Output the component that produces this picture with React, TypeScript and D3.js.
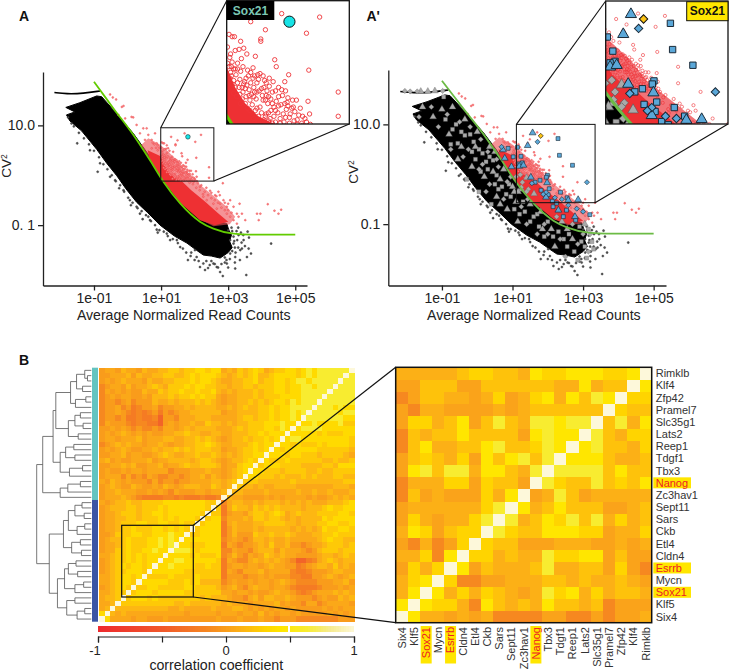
import React, { useEffect, useRef } from 'react';
import * as d3 from 'd3';

// all scatter values are log10(mean), log10(CV2)
type Pt = [number, number];

const blackCloud: Pt[] = [
  [-1.84, 1.36], [-1.42, 1.455], [-0.92, 1.59], [-0.77, 1.575], [-0.37, 1.27], [0.17, 0.84], [0.67, 0.37],
  [1.07, -0.1], [1.57, -0.43], [2.16, -0.73], [2.7, -0.92], [2.96, -0.97], [3.02, -1.1], [3.1, -1.2], [3.04, -1.32],
  [3.12, -1.45], [3.0, -1.55], [2.76, -1.66], [2.5, -1.62], [2.26, -1.6], [2.05, -1.5], [1.77, -1.36], [1.4, -1.22],
  [0.97, -1.0], [0.6, -0.75], [0.27, -0.54], [-0.05, -0.27], [-0.32, -0.01], [-0.62, 0.24], [-0.92, 0.52], [-1.37, 0.89],
  [-1.72, 1.09], [-1.82, 1.21], [-1.57, 1.27],
];
const topStreak: Pt[] = [[-2.18, 1.66], [-1.82, 1.63], [-1.32, 1.64], [-0.82, 1.69]];
const blackDots: Pt[] = [
  [-1.5, 0.64], [-0.89, 0.07], [-0.37, -0.1], [-0.25, -0.26], [0.27, -0.63], [0.62, -0.83], [0.87, -1.09],
  [1.27, -1.3], [1.57, -1.44], [1.8, -1.7], [2.16, -1.84], [2.31, -1.9], [2.76, -1.94], [2.84, -2.02],
  [3.21, -1.87], [3.54, -2.0], [4.28, -1.37], [3.58, -1.13], [3.46, -1.3], [3.61, -1.47], [3.68, -1.57],
  [3.56, -1.64], [3.16, -1.37], [3.31, -1.2], [3.36, -1.5], [3.21, -1.64], [2.96, -1.77], [2.56, -1.77],
  [2.06, -1.64], [2.01, -1.5], [1.47, -1.3], [1.17, -1.17], [0.67, -0.9], [0.37, -0.77], [0.07, -0.5],
  [-0.12, -0.3], [-0.52, -0.03], [-0.82, 0.24], [-1.12, 0.5], [-1.67, 1.04], [-1.77, 1.16], [3.06, -1.3],
  [3.16, -1.23], [3.41, -1.47], [3.06, -1.57], [2.26, -1.77], [2.66, -1.84], [3.0, -1.1], [3.3, -1.05],
  [3.2, -1.45], [3.4, -1.35], [2.9, -1.65], [2.5, -1.72], [1.9, -1.55], [0.1, -0.6], [0.45, -0.88], [0.9, -1.15],
  [-1.6, 0.98], [-1.45, 0.85], [-1.3, 0.74], [-1.15, 0.62], [-1.0, 0.49], [-0.85, 0.36], [-0.72, 0.22], [-0.6, 0.12],
  [-0.47, 0.0], [-0.35, -0.12], [-0.22, -0.2], [-0.1, -0.33], [0.02, -0.45], [0.15, -0.55], [0.3, -0.66], [0.42, -0.72],
  [0.55, -0.8], [0.7, -0.92], [0.82, -1.0], [0.95, -1.1], [1.08, -1.13], [1.2, -1.22], [1.35, -1.28], [1.5, -1.36],
  [1.65, -1.47], [1.75, -1.55], [1.88, -1.62], [2.0, -1.7], [2.12, -1.72], [2.35, -1.72], [2.45, -1.8], [2.6, -1.78],
  [2.8, -1.78], [2.95, -1.7], [3.05, -1.68], [3.22, -1.55], [3.3, -1.45], [3.27, -1.3], [3.25, -1.12], [3.38, -1.15],
  [3.1, -1.05], [3.45, -1.2], [3.5, -1.42], [3.62, -1.25], [3.2, -1.75], [2.7, -1.85], [3.0, -1.85], [2.4, -1.86],
  [3.35, -1.7], [3.12, -1.12], [3.18, -1.32], [3.12, -1.52], [2.9, -1.75],
];
const redHaze: Pt[] = [
  [0.62, 0.74], [0.95, 0.62], [1.17, 0.5], [1.57, 0.24], [1.87, -0.03], [2.36, -0.3], [2.96, -0.63], [3.21, -0.83],
  [3.05, -0.98], [2.56, -1.02], [2.16, -0.88], [1.57, -0.52], [1.07, -0.1], [0.67, 0.32], [0.4, 0.6],
];
const redCore: Pt[] = [
  [0.6, 0.5], [0.99, 0.38], [1.1, 0.2], [1.23, 0.06], [1.4, -0.05], [1.62, -0.12], [1.9, -0.3], [2.3, -0.52],
  [2.7, -0.76], [3.0, -0.93], [2.6, -1.0], [2.16, -0.9], [1.57, -0.55], [1.07, -0.12], [0.67, 0.3],
];
const redDots: Pt[] = [
  [1.7, 0.84], [2.19, 0.81], [1.3, 0.77], [2.02, 0.67], [1.49, 0.7], [1.43, 0.62], [1.43, 0.6], [1.17, 0.6],
  [1.02, 0.66], [1.06, 0.64], [1.09, 0.64], [1.15, 0.53], [1.21, 0.54], [1.25, 0.49], [1.36, 0.47], [1.04, 0.49],
  [1.61, 0.44], [1.18, 0.45], [1.63, 0.38], [1.33, 0.37], [2.05, 0.35], [1.79, 0.31], [1.74, 0.25], [2.43, 0.16],
  [2.04, 0.08], [2.43, -0.05], [1.03, 0.46], [1.13, 0.41], [1.06, 0.42], [1.39, 0.31], [1.42, 0.32], [1.27, 0.3],
  [1.24, 0.28], [1.59, 0.25], [1.54, 0.21], [1.48, 0.26], [1.4, 0.27], [1.38, 0.24], [1.33, 0.28], [1.23, 0.19],
  [1.28, 0.18], [1.21, 0.23], [1.11, 0.31], [1.13, 0.36], [1.02, 0.38], [1.04, 0.33], [1.08, 0.36], [1.0, 0.41],
  [1.53, 0.12], [1.66, 0.12], [1.71, 0.13], [1.78, 0.11], [1.84, 0.09], [1.89, 0.09], [1.76, 0.01], [1.81, -0.03],
  [1.92, -0.04], [2.0, -0.07], [2.07, -0.12], [1.86, -0.09], [1.75, -0.06], [1.68, -0.07], [1.62, 0], [1.58, 0.06],
  [1.49, 0.09], [1.45, 0.13], [1.38, 0.16], [1.34, 0.12], [1.29, 0.09], [1.23, 0.06], [1.19, 0.1], [1.16, 0.14],
  [1.1, 0.2], [1.06, 0.23], [1.03, 0.28], [1.42, 0.03], [1.49, -0.05], [1.55, -0.07], [1.62, -0.1], [1.4, -0.05],
  [1.36, 0], [1.53, -0.02], [1.29, 0], [1.34, -0.07], [1.45, -0.1], [1.66, 0.04], [1.51, 0.17], [1.58, 0.16],
  [1.47, 0.2], [1.34, 0.2],
  [-0.52, 1.62], [-0.44, 1.56], [-0.34, 1.52], [-0.17, 1.37], [-0.12, 1.39], [0.12, 1.17], [0.17, 1.16], [0.47, 0.94],
  [0.57, 0.94], [0.62, 0.81], [0.72, 0.71], [0.82, 0.84], [0.27, 1.01], [-0.27, 1.21], [-0.07, 1.14], [0.37, 0.84],
  [0.52, 0.71], [0.72, 0.54], [0.87, 0.64], [2.84, -0.16], [2.71, -0.33], [2.46, -0.31], [2.61, -0.4], [3.06, -0.5],
  [3.34, -0.57], [3.51, -0.9], [3.31, -0.83], [3.86, -0.77], [3.96, -0.77], [4.18, -0.58], [4.38, -0.71], [4.5, -0.77],
  [4.58, -0.69], [3.91, -0.9], [3.16, -0.63], [2.96, -0.77], [2.76, -0.57], [2.66, -0.67], [3.26, -0.97], [3.16, -0.9],
  [3.06, -0.83], [2.16, -0.23], [1.97, -0.13], [2.26, -0.43], [2.36, -0.5], [2.56, -0.57], [2.06, -0.03], [1.77, 0.07],
  [2.96, -0.63], [3.26, -0.77], [3.41, -0.77], [2.86, -0.5],
  // denser part of the red cloud
  [1.05, 0.3], [1.08, 0.26], [1.13, 0.24], [1.16, 0.27], [1.19, 0.2], [1.22, 0.25], [1.25, 0.22], [1.3, 0.24],
  [1.31, 0.14], [1.35, 0.16], [1.37, 0.1], [1.41, 0.17], [1.44, 0.19], [1.46, 0.09], [1.5, 0.13], [1.52, 0.06],
  [1.56, 0.1], [1.6, 0.03], [1.63, 0.08], [1.65, -0.02], [1.69, 0.05], [1.72, -0.03], [1.74, 0.06], [1.78, 0.04],
  [1.8, -0.06], [1.83, 0.02], [1.87, -0.01], [1.9, -0.08], [1.94, 0.02], [1.97, -0.05], [1.28, 0.13], [1.24, 0.12],
  [1.2, 0.16], [1.17, 0.06], [1.12, 0.12], [1.08, 0.15], [1.15, 0.2], [1.26, 0.02], [1.32, 0.05], [1.38, 0.02],
  [1.44, -0.02], [1.5, -0.03], [1.56, 0.0], [1.6, -0.05], [1.47, -0.08], [1.53, -0.09], [1.58, -0.11], [1.68, -0.11],
  [1.73, -0.1], [1.8, -0.11], [1.9, -0.12], [1.96, -0.11], [1.05, 0.38], [1.1, 0.36], [1.17, 0.34], [1.2, 0.38],
  [1.26, 0.35], [1.3, 0.33], [1.35, 0.3], [1.46, 0.3], [1.5, 0.24], [1.54, 0.28], [1.66, 0.2], [1.7, 0.18],
  [1.62, 0.17], [1.75, 0.17], [1.85, 0.03], [2.02, -0.1], [2.1, -0.16], [2.15, -0.3], [2.2, -0.2], [2.3, -0.33],
  [2.4, -0.4], [2.5, -0.46], [2.6, -0.5], [2.7, -0.55], [2.8, -0.65], [2.9, -0.7], [3.0, -0.7], [3.1, -0.75],
  [2.05, -0.25], [2.25, -0.38], [1.95, -0.18], [1.85, -0.15], [2.35, -0.25], [2.5, -0.35], [2.65, -0.42], [2.75, -0.4],
  [2.9, -0.55], [3.0, -0.57], [0.9, 0.6], [0.95, 0.55], [0.8, 0.62], [0.75, 0.65], [0.9, 0.5], [0.85, 0.55],
  [1.0, 0.55], [1.1, 0.52],
];
const fitLine: Pt[] = [
  [-1, 1.876], [-0.82, 1.71], [-0.42, 1.34], [0.17, 0.81], [0.67, 0.3], [1.07, -0.13], [1.57, -0.565],
  [2.16, -0.93], [2.56, -1.07], [3.16, -1.17], [3.66, -1.19], [5, -1.19],
];
const sox21: Pt = [1.8, 0.77];

const graySquares: Pt[] = [
  [-0.95, 1.55], [-0.9, 1.1], [-0.6, 1.0], [-0.55, 0.62], [-0.35, 0.78], [-0.1, 0.65], [-0.05, 0.3], [0.15, 0.42],
  [0.3, 0.1], [0.55, -0.02], [0.45, 0.28], [0.7, -0.25], [0.95, -0.45], [1.05, -0.7], [1.3, -0.55], [1.6, -0.85],
  [1.75, -1.05], [2.0, -0.95], [2.3, -1.15], [2.6, -1.2], [2.9, -1.05], [2.55, -1.45], [2.75, -1.55], [3.05, -1.45],
  [3.25, -1.35], [2.85, -1.72], [3.1, -1.68], [0.05, -0.35], [-0.3, -0.1], [0.4, -0.6], [-0.2, 0.8], [0.05, 0.5],
  [0.25, 0.25], [0.6, -0.3], [1.2, -0.8], [1.9, -1.25], [3.15, -1.1], [-0.7, 0.9], [0.82, -0.4], [1.5, -0.95],
  [-0.75, 0.6], [-0.45, 0.85], [-0.15, 0.45], [0.1, 0.05], [0.35, 0.35], [0.5, -0.2], [0.9, -0.2], [1.35, -0.75],
  [1.7, -0.8], [2.15, -1.25], [2.45, -1.3], [2.95, -1.35], [3.3, -1.5],
];
const grayTriangles: Pt[] = [
  [-1.6, 1.66], [-1.4, 1.66], [-1.2, 1.67], [-1.25, 1.15], [-0.8, 0.8], [-0.45, 0.55], [-0.15, 0.15], [0.2, -0.05],
  [0.5, 0.45], [0.75, 0.1], [1.0, -0.25], [1.25, -0.3], [1.5, -0.6], [1.8, -0.75], [2.1, -1.1], [2.4, -0.95],
  [0.85, -0.7], [1.15, -0.95], [0.55, -0.45], [2.2, -1.45], [-1.55, 1.35], [-0.7, 1.35], [1.4, -0.07], [1.16, -0.35],
  [1.61, -0.39], [-0.35, 1.1], [0.0, 0.85], [0.35, 0.55], [0.65, -0.1], [1.1, -0.55], [2.55, -1.1],
  [-1.0, 1.3], [-0.55, 0.3], [-0.05, 0.55], [0.45, 0.05], [0.65, -0.6], [1.05, -0.35], [1.85, -1.1], [2.7, -1.3], [3.05, -1.0],
];
const grayDiamonds: Pt[] = [
  [-2.05, 1.67], [-1.9, 1.66], [-1.7, 1.66], [-0.98, 1.67], [-1.65, 1.15], [-1.1, 0.95], [-0.75, 0.5], [-0.2, 0.95],
  [-0.25, 0.5], [0.1, 0.7], [0.3, 0.45], [0.6, 0.15], [0.35, -0.2], [0.85, -0.15], [1.1, -0.05], [1.45, -0.3],
  [1.9, -1.0], [2.25, -0.85], [2.7, -1.0], [3.0, -1.2], [1.4, -1.0], [0.75, -0.5], [2.5, -1.65], [3.2, -1.2],
  [1.22, -0.01], [1.28, -0.16], [1.4, -0.35], [1.43, -0.5], [1.25, -0.26], [-0.5, 1.05], [0.15, 0.2], [0.95, -0.05],
  [1.7, -1.2], [2.35, -1.3], [-1.3, 1.35], [-0.85, 1.2], [-0.4, 0.35], [0.05, 0.1], [0.25, -0.35], [0.55, 0.3],
  [1.25, -0.65], [2.0, -1.2], [2.85, -1.4], [3.15, -1.55],
];
const blueSquares: Pt[] = [
  [2.29, 0.715], [2.33, 0.38], [2.7, 0.18], [1.24, 0.36], [1.14, 0.54], [1.28, 0.23], [1.19, 0.21], [1.78, -0.12],
  [1.99, -0.02], [1.96, -0.06], [1.64, -0.16], [2.04, -0.29], [1.81, -0.32], [2.01, -0.41], [2.36, -0.36], [2.55, -0.47],
  [2.13, -0.54], [0.875, 0.52], [1.02, 0.35], [2.15, -0.65], [2.44, -0.85], [2.53, -0.72], [3.19, -0.81], [2.79, -0.92],
  [2.25, -0.58],
];
const blueTriangles: Pt[] = [
  [1.57, 0.83], [1.43, 0.575], [1.19, 0.16], [1.31, 0.18], [1.52, -0.06], [1.98, -0.17], [1.95, -0.46], [2.86, -0.51],
  [0.78, 0.32], [0.97, 0.15], [0.73, 0.49], [2.3, -0.72], [2.77, -0.85], [2.58, -0.52],
];
const blueDiamonds: Pt[] = [
  [1.71, 0.65], [3.11, -0.16], [1.55, -0.18], [1.95, -0.36], [1.87, -0.4], [2.2, -0.47], [2.4, -0.5], [0.69, 0.55],
  [2.58, -0.62], [2.82, -0.69], [3.0, -0.75],
];

const xTickValues = [-1, 1, 3, 5];
const xTickLabels = ['1e-01', '1e+01', '1e+03', '1e+05'];
const yTickValues = [1, -1];

// gene order of the zoomed block, bottom row = first column
const geneLabels = [
  'Six4', 'Klf5', 'Sox21', 'Mycn', 'Esrrb', 'Cldn4', 'Etl4', 'Ckb', 'Sars', 'Sept11', 'Zc3hav1',
  'Nanog', 'Tbx3', 'Tdgf1', 'Reep1', 'Lats2', 'Slc35g1', 'Pramel7', 'Zfp42', 'Klf4', 'Rimklb',
];
const highlighted = ['Sox21', 'Esrrb', 'Nanog'];

// colour steps estimated per cell, the level tables turn them into a correlation
const zoomLevels = [-0.6, -0.4, -0.15, 0.02, 0.1, 0.2, 0.3, 0.42, 0.62, 1];
const mapLevels = [-0.42, -0.25, -0.15, -0.02, 0.05, 0.14, 0.24, 0.34, 0.62, 1];

const zoomRows = [
  '974434342222332232334',
  '797664275454755452333',
  '479746465434867464554',
  '467962233444554544543',
  '364697354445844553632',
  '446279664544866773533',
  '324236965533344433434',
  '476356698655777663446',
  '364344689845768584645',
  '344444468974575553345',
  '253433364793485344444',
  '244466365539865585657',
  '378588477548988885755',
  '356546375785897775445',
  '257445578556879785546',
  '254557555537877985466',
  '366457358548878895847',
  '324433334345555559655',
  '235544346346747587966',
  '335553355555544745597',
  '444445665547667776679',
];

// full map: rows from the top, upper left half only, the rest is its mirror
const tealByBlue = [
  '34435443544556656677677',
  '33444535445566556767776',
  '34345444354455666767765',
  '23443534456546667677665',
  '24343433544656676676675',
  '23434433435556566767664',
  '23323423335445455565654',
  '23342312334233445455554',
  '23343212123132344555555',
  '23323112112033244455544',
  '24333212211034344544655',
  '33434323223244345455554',
  '34345434343344556554455',
  '34434445344455445565654',
  '23454544344543445566765',
  '34345433445455656566655',
  '33445344334565445565565',
  '45343344453445555456654',
  '33445453344534456556665',
  '34334344344442333444544',
  '34442423243223323445354',
  '43543433324233233444455',
  '34543354334354345554465',
  '34454443343432433344344',
  '34445432111122121112112',
];
const tealByTeal = [
  '454656764566776787888888',
  '54565675567777678788888',
  '4455667566776788788888',
  '545566566677677887888',
  '45455565667767788888',
  '3445556566677778888',
  '344556565677687888',
  '45456556676778888',
  '3445555667677878',
  '444566566767787',
  '45455666777877',
  '4456566677687',
  '445556676777',
  '34556566767',
  '4455567677',
  '344566767',
  '45456677',
  '3455676',
  '344677',
  '34567',
  '3456',
  '456',
  '45',
  '5',
];
const blueByBlue = [
  '4345565566667777777766',
  '345556656667677777776',
  '34456665667767777776',
  '3445566566676767776',
  '344566677667766766',
  '34456676667767676',
  '3346667766777877',
  '345567666778787',
  '34456766677878',
  '3446676677877',
  '445667676777',
  '34566767677',
  '3456767767',
  '345667776',
  '44567767',
  '4456776',
  '345676',
  '44566',
  '4556',
  '445',
  '45',
  '7',
];

// dendrogram as [merge height, upper child, lower child], 0 is a leaf
const tealTree = [0.89,
  [0.7,
    [0.65,
      [0.38, [0.27, [0.12, 0, [0.07, 0, 0]], [0.16, 0, 0]], [0.29, [0.1, 0, 0], 0]],
      [0.42, [0.3, [0.2, 0, 0], [0.15, 0, 0]], [0.24, 0, 0]]],
    [0.57, [0.47, [0.32, 0, 0], [0.3, 0, 0]], [0.4, [0.16, 0, 0], 0]]],
  [0.57, [0.43, [0.2, 0, 0], 0], 0]];
const blueTree = [0.77,
  [0.51, [0.42, [0.3, [0.17, 0, 0], [0.13, 0, 0]], [0.26, [0.12, 0, 0], 0]], [0.36, [0.2, 0, 0], [0.18, 0, 0]]],
  [0.62, [0.49, [0.42, [0.28, 0, 0], [0.25, 0, 0]], [0.3, [0.14, 0, 0], 0]], [0.45, [0.3, 0, 0], [0.26, [0.12, 0, 0], 0]]]];
const fullTree = [1.0, tealTree, blueTree];

const colorbarTicks = [-1, -0.5, 0, 0.5, 1];
const colorbarLabels = [-1, 0, 1];
const colorDomain = [-1, -0.5, -0.1, 0.1, 0.3, 0.42, 0.62, 0.8, 1];
const colorRange = ['#ee2a2e', '#f1592a', '#f78f1f', '#fcb016', '#ffd400', '#ffe600', '#f8ec30', '#f6eb8e', '#fdf8da'];

const FONT = "'Liberation Sans', Arial, sans-serif";
const INK = '#222';

const App = () => {
  const svgRef = useRef<SVGSVGElement>(null);

  useEffect(() => {
    const svg = d3.select(svgRef.current);
    svg.selectAll('*').remove();
    svg.style('font-family', FONT);
    const defs = svg.append('defs');

    const corrColor = d3.scaleLinear<string>().domain(colorDomain).range(colorRange);

    const polyline = (x: any, y: any) => d3.line<Pt>().x((d) => x(d[0])).y((d) => y(d[1]));

    const drawMarkers = (g: any, x: any, y: any, pts: Pt[], shape: string, size: number, fill: string, stroke: string, sw: number) => {
      const type = shape === 'triangle' ? d3.symbolTriangle : d3.symbolSquare;
      g.append('g')
        .selectAll('path')
        .data(pts)
        .join('path')
        .attr('d', d3.symbol().type(type).size(size)())
        .attr('transform', (d: Pt) => `translate(${x(d[0])},${y(d[1])})${shape === 'diamond' ? ' rotate(45)' : ''}`)
        .attr('fill', fill)
        .attr('stroke', stroke)
        .attr('stroke-width', sw);
    };

    const drawCloud = (g: any, x: any, y: any, big: boolean, withMarkers: boolean, lineColor: string, lineWidth: number) => {
      const path = polyline(x, y);
      g.append('path').attr('d', path(blackCloud)! + 'Z').attr('fill', '#000').attr('stroke', '#000').attr('stroke-width', 1);
      g.append('path').attr('d', d3.line<Pt>().x((d) => x(d[0])).y((d) => y(d[1])).curve(d3.curveBasis)(topStreak)).attr('fill', 'none').attr('stroke', '#000').attr('stroke-width', 1.6);
      g.append('g')
        .selectAll('circle')
        .data(blackDots)
        .join('circle')
        .attr('cx', (d: Pt) => x(d[0]))
        .attr('cy', (d: Pt) => y(d[1]))
        .attr('r', big ? 2 : 1.05)
        .attr('fill', '#555')
        .attr('stroke', '#222')
        .attr('stroke-width', 0.4);
      g.append('path').attr('d', path(redHaze)! + 'Z').attr('fill', '#ef5055').attr('opacity', big ? (withMarkers ? 0.8 : 0) : 0.62);
      g.append('path').attr('d', path(redCore)! + 'Z').attr('fill', '#ee3033');
      g.append('g')
        .selectAll('circle')
        .data(redDots)
        .join('circle')
        .attr('cx', (d: Pt) => x(d[0]))
        .attr('cy', (d: Pt) => y(d[1]))
        .attr('r', big ? (withMarkers ? 1.6 : 2.2) : 0.95)
        .attr('fill', big ? 'none' : '#f78c8c')
        .attr('stroke', '#ee3338')
        .attr('stroke-width', big ? (withMarkers ? 0.6 : 0.9) : 0.4);
      if (withMarkers) {
        const s = big ? 2.4 : 1;
        const edge = big ? 1 : 0.5;
        drawMarkers(g, x, y, graySquares, 'square', 16 * s, '#a9a9a9', '#555', edge * 0.6);
        drawMarkers(g, x, y, grayTriangles, 'triangle', 20 * s, '#a9a9a9', '#555', edge * 0.6);
        drawMarkers(g, x, y, grayDiamonds, 'diamond', 14 * s, '#a9a9a9', '#555', edge * 0.6);
      }
      g.append('path')
        .attr('d', d3.line<Pt>().x((d) => x(d[0])).y((d) => y(d[1])).curve(d3.curveMonotoneX)(fitLine))
        .attr('fill', 'none')
        .attr('stroke', lineColor)
        .attr('stroke-width', lineWidth);
      if (withMarkers) {
        const s = big ? 2.7 : 1;
        const edge = big ? 1 : 0.6;
        drawMarkers(g, x, y, blueSquares, 'square', 15 * s, '#5aa7d8', '#1a2a38', edge);
        drawMarkers(g, x, y, blueTriangles, 'triangle', 20 * s, '#5aa7d8', '#1a2a38', edge);
        drawMarkers(g, x, y, blueDiamonds, 'diamond', 13 * s, '#5aa7d8', '#1a2a38', edge);
        drawMarkers(g, x, y, [sox21], 'diamond', 13 * s, '#fbc315', '#111', edge);
      } else {
        g.append('circle')
          .attr('cx', x(sox21[0]))
          .attr('cy', y(sox21[1]))
          .attr('r', big ? 5.6 : 2.3)
          .attr('fill', '#17e3e6')
          .attr('stroke', '#111')
          .attr('stroke-width', big ? 1 : 0.5);
      }
    };

    const drawPanel = (o: any) => {
      const g = svg.append('g');
      const x = d3.scaleLinear().domain([-2.52, 5.35]).range(o.xRange);
      const y = d3.scaleLinear().domain(o.yDomain).range(o.yRange);

      drawCloud(g, x, y, false, o.markers, o.lineColor, 1.8);

      const xAxis = g.append('g')
        .attr('transform', `translate(0,${o.yRange[0]})`)
        .call(d3.axisBottom(x).tickValues(xTickValues).tickSizeInner(5).tickSizeOuter(0).tickPadding(3)
          .tickFormat((_, i) => xTickLabels[i]));
      const yAxis = g.append('g')
        .attr('transform', `translate(${o.xRange[0]},0)`)
        .call(d3.axisLeft(y).tickValues(yTickValues).tickSizeInner(5).tickSizeOuter(0).tickPadding(3)
          .tickFormat((_, i) => o.yLabels[i]));
      [xAxis, yAxis].forEach((a) => {
        a.attr('font-family', FONT).attr('font-size', 14).attr('color', INK);
        a.selectAll('path,line').attr('stroke-width', 1.3);
      });

      g.append('text')
        .attr('x', o.titleX)
        .attr('y', 320)
        .attr('text-anchor', 'middle')
        .attr('font-size', 14.1)
        .attr('fill', INK)
        .text('Average Normalized Read Counts');

      const cv = g.append('text')
        .attr('transform', `translate(${o.cvX},${o.cvY}) rotate(-90)`)
        .attr('text-anchor', 'middle')
        .attr('font-size', 13.5)
        .attr('fill', INK);
      cv.append('tspan').text('CV');
      cv.append('tspan').attr('dy', -4).attr('font-size', 8.5).text('2');

      // box on the main plot and its blown up copy
      const b = o.box;
      const bx0 = x(b.x[0]);
      const bx1 = x(b.x[1]);
      const by0 = y(b.y[0]);
      const by1 = y(b.y[1]);
      g.append('rect').attr('x', bx0).attr('y', by0).attr('width', bx1 - bx0).attr('height', by1 - by0)
        .attr('fill', 'none').attr('stroke', '#111').attr('stroke-width', 1);

      const ix = d3.scaleLinear().domain(b.x).range(o.inset.x);
      const iy = d3.scaleLinear().domain(b.y).range(o.inset.y);
      const [ix0, ix1] = o.inset.x;
      const [iy0, iy1] = o.inset.y;

      g.append('line').attr('x1', bx0).attr('y1', by0).attr('x2', ix0).attr('y2', iy0).attr('stroke', '#111').attr('stroke-width', 1.1);
      g.append('line').attr('x1', bx1).attr('y1', by1).attr('x2', ix1).attr('y2', iy1).attr('stroke', '#111').attr('stroke-width', 1.1);

      defs.append('clipPath').attr('id', o.clipId).append('rect')
        .attr('x', ix0).attr('y', iy0).attr('width', ix1 - ix0).attr('height', iy1 - iy0);
      g.append('rect').attr('x', ix0).attr('y', iy0).attr('width', ix1 - ix0).attr('height', iy1 - iy0).attr('fill', '#fff');
      const inner = g.append('g').attr('clip-path', `url(#${o.clipId})`);
      drawCloud(inner, ix, iy, true, o.markers, o.lineColor, 3);
      g.append('rect').attr('x', ix0).attr('y', iy0).attr('width', ix1 - ix0).attr('height', iy1 - iy0)
        .attr('fill', 'none').attr('stroke', '#111').attr('stroke-width', 1.3);

      const t = o.tag;
      g.append('rect').attr('x', t.x).attr('y', t.y).attr('width', t.w).attr('height', t.h)
        .attr('fill', t.fill).attr('stroke', t.stroke).attr('stroke-width', t.stroke === 'none' ? 0 : 1);
      g.append('text').attr('x', t.x + t.w / 2).attr('y', t.y + t.h / 2 + 4.2).attr('text-anchor', 'middle')
        .attr('font-size', 12).attr('font-weight', 'bold').attr('fill', t.color).text('Sox21');
    };

    drawPanel({
      xRange: [43, 307], yRange: [285.5, 72], yDomain: [-2.21, 2.07], yLabels: ['10.0', '0. 1'],
      markers: false, lineColor: '#62cc00', cvX: 11, cvY: 166, titleX: 183.7, clipId: 'clip-a',
      box: { x: [0.99, 2.573], y: [0.952, -0.117] },
      inset: { x: [226.7, 349.3], y: [0.7, 124] },
      tag: { x: 226.7, y: 1, w: 47.6, h: 19, fill: '#000', stroke: 'none', color: '#7cc8b4' },
    });
    drawPanel({
      xRange: [388.3, 666], yRange: [285.5, 70], yDomain: [-2.23, 2.09], yLabels: ['10.0', '0.1'],
      markers: true, lineColor: '#6cbb45', cvX: 358, cvY: 172, titleX: 533.8, clipId: 'clip-b',
      box: { x: [1.11, 3.34], y: [1.0, -0.57] },
      inset: { x: [605.7, 728], y: [1, 124] },
      tag: { x: 686.7, y: 1.7, w: 41.3, h: 19, fill: '#ffe600', stroke: '#111', color: '#111' },
    });

    // panel letters
    [['A', 19, 21], ["A'", 366.5, 21], ['B', 19, 365]].forEach(([s, px, py]) => {
      svg.append('text').attr('x', px).attr('y', py).attr('font-size', 14).attr('font-weight', 'bold').attr('fill', '#111').text(s as string);
    });

    // ---- panel B, full correlation map ----
    const n = 48;
    const cells = d3.range(n);
    const mapX = d3.scaleBand<number>().domain(cells).range([99.3, 354]);
    const mapY = d3.scaleBand<number>().domain(cells).range([367.7, 621.7]);

    const levelAt = (r: number, c: number): string | undefined => {
      if (r <= 24 && c <= 22) return tealByBlue[r]?.[c];
      if (r <= 24) return tealByTeal[r]?.[c - 23];
      return blueByBlue[r - 25]?.[c];
    };
    const corrAt = (r: number, c: number) => {
      if (r + c === n - 1) return 1;
      const v = r + c < n - 1 ? levelAt(r, c) : levelAt(n - 1 - c, n - 1 - r);
      return mapLevels[+(v ?? 5)];
    };

    const mapG = svg.append('g').attr('shape-rendering', 'crispEdges');
    cells.forEach((r) => {
      cells.forEach((c) => {
        mapG.append('rect')
          .attr('x', mapX(c)!)
          .attr('y', mapY(r)!)
          .attr('width', mapX.bandwidth() + 0.5)
          .attr('height', mapY.bandwidth() + 0.5)
          .attr('fill', corrColor(corrAt(r, c)));
      });
    });

    // cluster strip
    const splitY = mapY(25)!;
    svg.append('rect').attr('x', 92).attr('y', mapY(0)!).attr('width', 6).attr('height', splitY - mapY(0)!).attr('fill', '#63c4c0');
    svg.append('rect').attr('x', 92).attr('y', splitY).attr('width', 6).attr('height', 621.7 - splitY).attr('fill', '#3b55a5');

    // dendrogram
    const treeX = d3.scaleLinear().domain([0, 1]).range([91.3, 36.7]);
    const treeLinks: string[] = [];
    let leafIndex = 0;
    const walk = (node: any): { x: number; y: number } => {
      if (node === 0) {
        const i = leafIndex++;
        return { x: treeX(0), y: mapY(i)! + mapY.bandwidth() / 2 };
      }
      const [h, a, b] = node;
      const up = walk(a);
      const down = walk(b);
      const px = treeX(h);
      treeLinks.push(`M${up.x},${up.y}H${px}V${down.y}H${down.x}`);
      return { x: px, y: (up.y + down.y) / 2 };
    };
    walk(fullTree);
    svg.append('path').attr('d', treeLinks.join('')).attr('fill', 'none').attr('stroke', '#555').attr('stroke-width', 0.8);

    // ---- zoomed 21 x 21 block ----
    const genes = d3.range(geneLabels.length);
    const zoomX = d3.scaleBand<number>().domain(genes).range([395.7, 651.7]);
    const zoomY = d3.scaleBand<number>().domain(genes).range([622.7, 367.3]);
    const zoomG = svg.append('g').attr('shape-rendering', 'crispEdges');
    zoomRows.forEach((row, r) => {
      row.split('').forEach((v, c) => {
        zoomG.append('rect')
          .attr('x', zoomX(c)!)
          .attr('y', zoomY(r)!)
          .attr('width', zoomX.bandwidth() + 0.5)
          .attr('height', zoomY.bandwidth() + 0.5)
          .attr('fill', corrColor(zoomLevels[+v]));
      });
    });
    svg.append('rect').attr('x', 395.7).attr('y', 367.3).attr('width', 256).attr('height', 255.4)
      .attr('fill', 'none').attr('stroke', '#111').attr('stroke-width', 1.5);

    // locator box and connectors
    const locator = { x0: 121.7, x1: 193.3, y0: 525.3, y1: 597 };
    svg.append('rect').attr('x', locator.x0).attr('y', locator.y0).attr('width', locator.x1 - locator.x0)
      .attr('height', locator.y1 - locator.y0).attr('fill', 'none').attr('stroke', '#111').attr('stroke-width', 1.2);
    svg.append('line').attr('x1', locator.x1).attr('y1', locator.y0).attr('x2', 395.7).attr('y2', 367.3).attr('stroke', '#111').attr('stroke-width', 1.2);
    svg.append('line').attr('x1', locator.x1).attr('y1', locator.y1).attr('x2', 395.7).attr('y2', 622.7).attr('stroke', '#111').attr('stroke-width', 1.2);

    // gene labels
    const labelG = svg.append('g').attr('font-size', 11);
    geneLabels.forEach((name, i) => {
      const isHit = highlighted.includes(name);
      const cy = zoomY(i)! + zoomY.bandwidth() / 2;
      const cx = zoomX(i)! + zoomX.bandwidth() / 2;
      if (isHit) {
        labelG.append('rect').attr('x', 653.3).attr('y', cy - 5.5).attr('width', 37.7).attr('height', 11).attr('fill', '#ffe600');
        labelG.append('rect').attr('x', cx - 5.5).attr('y', 626).attr('width', 11).attr('height', 37.5).attr('fill', '#ffe600');
      }
      labelG.append('text').attr('x', 655.7).attr('y', cy + 3.9).attr('fill', isHit ? '#ee2024' : '#333').text(name);
      labelG.append('text')
        .attr('transform', `translate(${cx + 3.9},627) rotate(-90)`)
        .attr('text-anchor', 'end')
        .attr('fill', isHit ? '#ee2024' : '#333')
        .text(name);
    });

    // colour bar
    const barX = d3.scaleLinear().domain([-1, 1]).range([98, 354]);
    const barSteps = d3.range(-1, 1, 0.02);
    svg.append('g').attr('shape-rendering', 'crispEdges')
      .selectAll('rect')
      .data(barSteps.filter((v) => v < 0.47 || v >= 0.5))
      .join('rect')
      .attr('x', (d) => barX(d))
      .attr('y', 625.7)
      .attr('width', barX(-0.98) - barX(-1) + 0.3)
      .attr('height', 6.6)
      .attr('fill', (d) => corrColor(d));

    const barAxis = svg.append('g')
      .attr('transform', 'translate(0,636.5)')
      .call(d3.axisBottom(barX).tickValues(colorbarTicks).tickSizeInner(6).tickSizeOuter(6).tickFormat(() => ''));
    barAxis.attr('color', INK).selectAll('path,line').attr('stroke-width', 1.2);

    colorbarLabels.forEach((v) => {
      svg.append('text')
        .attr('x', v === -1 ? barX(v) - 3 : barX(v))
        .attr('y', 655)
        .attr('text-anchor', 'middle')
        .attr('font-size', 13)
        .attr('fill', INK)
        .text(v);
    });
    svg.append('text')
      .attr('x', 216.3)
      .attr('y', 670)
      .attr('text-anchor', 'middle')
      .attr('font-size', 14.2)
      .attr('fill', INK)
      .text('correlation coefficient');
  }, []);

  return (
    <svg
      ref={svgRef}
      width={729}
      height={672}
      style={{ position: 'absolute', left: 0, top: 0, display: 'block', background: '#fff' }}
    />
  );
};

export default App;
